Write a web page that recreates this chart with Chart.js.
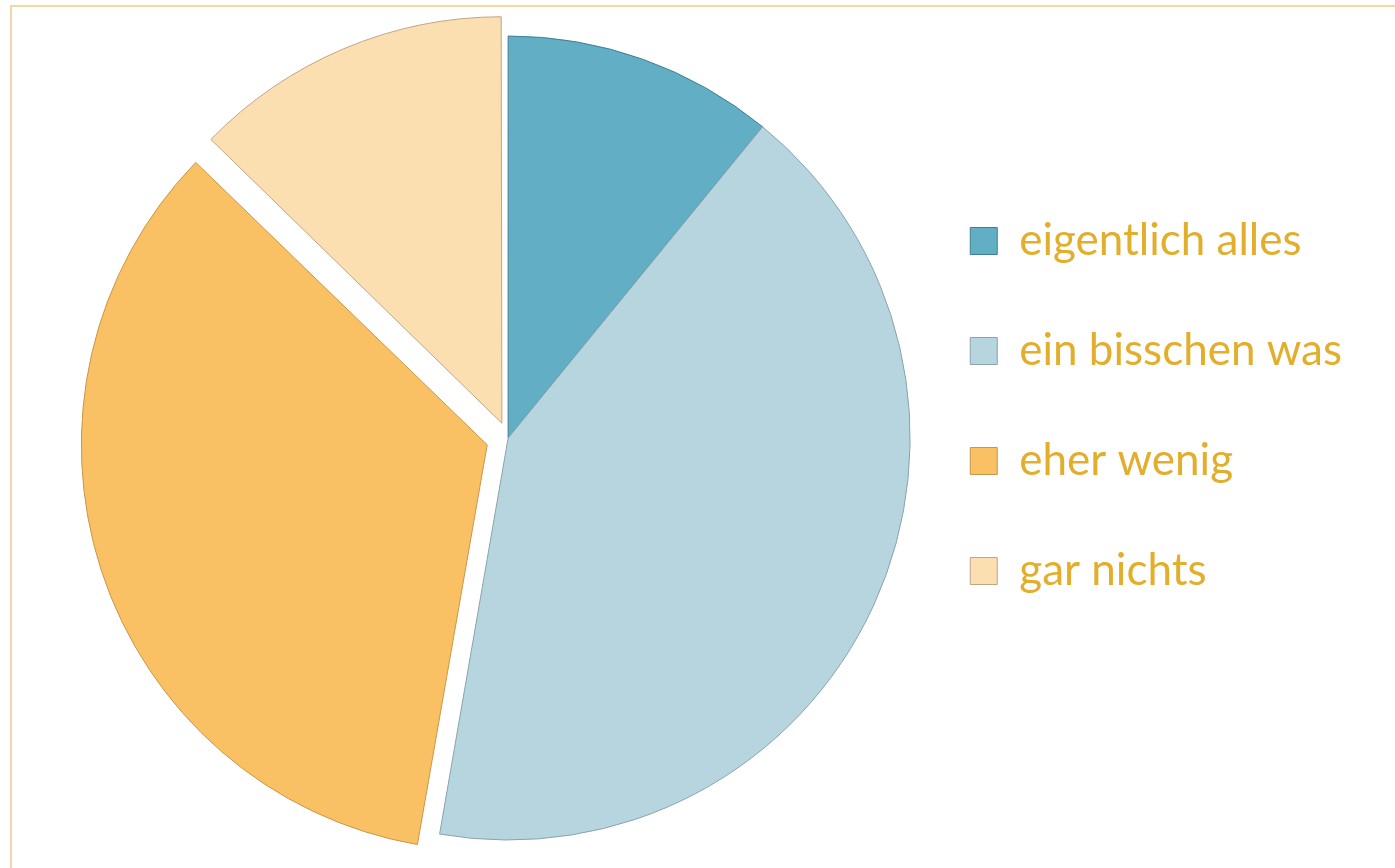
<!DOCTYPE html>
<html>
<head>
<meta charset="utf-8">
<script src="https://cdn.jsdelivr.net/npm/chart.js@4/dist/chart.umd.min.js"></script>
<style>
  html, body { margin: 0; padding: 0; background: #fff; overflow: hidden; }
  .frame {
    position: absolute; left: 10px; top: 5px;
    width: 1500px; height: 1000px;
    border-left: 2px solid #F3D7A6; border-top: 2px solid #F3D7A6;
  }
  .wrap { position: absolute; left: 0; top: 0; width: 1395px; height: 868px; }
</style>
</head>
<body>
<div class="frame"></div>
<div class="wrap"><canvas id="pie"></canvas></div>
<script>
// answers (count of people)
const labels = ['eigentlich alles', 'ein bisschen was', 'eher wenig', 'gar nichts'];
const counts = [6, 23, 19, 7];
const fillColors = ['#62AEC4', '#B6D5DF', '#F9C163', '#FCDFB1'];
const edgeColors = ['#3F7F93', '#8AA3AE', '#C9964A', '#BFA587'];
const sliceOffsets = [0, 0, 88, 64];

new Chart(document.getElementById('pie'), {
  type: 'pie',
  data: {
    labels: labels,
    datasets: [{
      data: counts,
      backgroundColor: fillColors,
      borderColor: edgeColors,
      borderWidth: 1,
      offset: sliceOffsets,
      clip: false
    }]
  },
  options: {
    responsive: true,
    maintainAspectRatio: false,
    animation: false,
    radius: 402,
    layout: { padding: { left: 112, right: 43, top: 153, bottom: 145 } },
    plugins: {
      tooltip: { enabled: false },
      legend: {
        position: 'right',
        align: 'start',
        maxWidth: 448,
        labels: {
          boxWidth: 27,
          boxHeight: 27,
          padding: 66,
          color: '#E2AE2C',
          font: { family: 'Lato', size: 44 }
        }
      }
    }
  }
});
</script>
</body>
</html>
